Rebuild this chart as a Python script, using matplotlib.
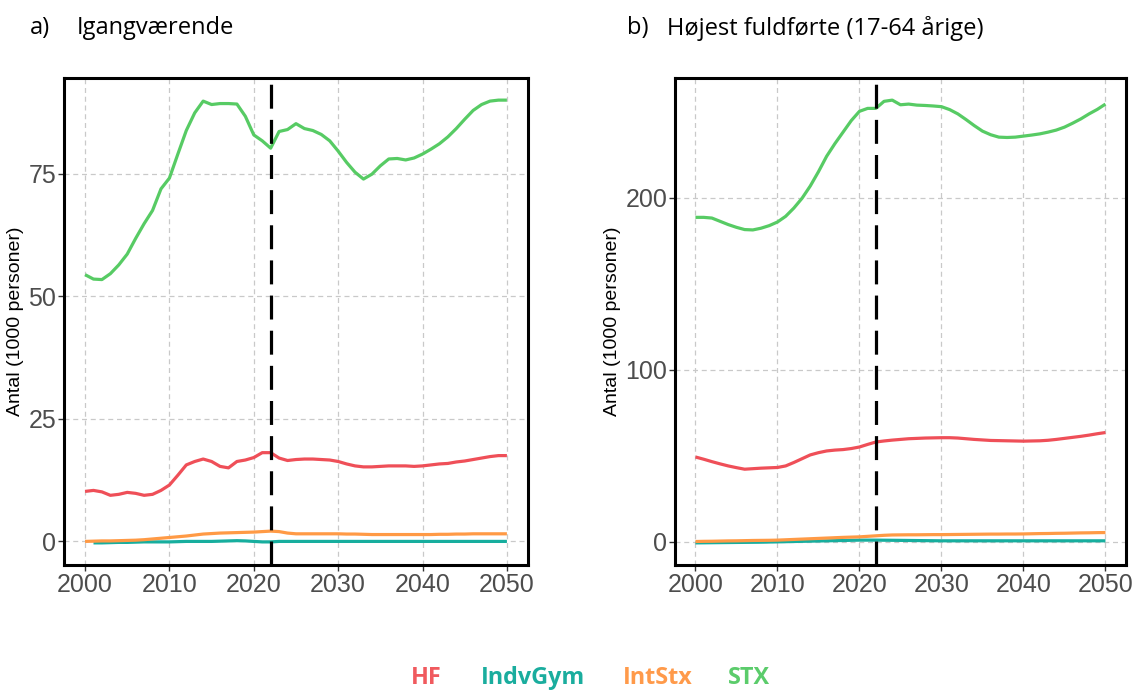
import numpy as np
import matplotlib
matplotlib.use("Agg")
import matplotlib.pyplot as plt

years = list(range(2000, 2051))
series_names = ["HF", "IndvGym", "IntStx", "STX"]
colors = {"HF": "#EF4F58", "IndvGym": "#17AE9E", "IntStx": "#FF9A45", "STX": "#57CB64"}
legend_colors = {"HF": "#F05A5E", "IndvGym": "#1AAD9E", "IntStx": "#FF9A4A", "STX": "#5BCC6B"}

# a) Igangværende
hf_a = [10.2, 10.4, 10.1, 9.4, 9.6, 10.0, 9.8, 9.4, 9.6, 10.4,
        11.5, 13.5, 15.6, 16.3, 16.8, 16.3, 15.3, 15.0, 16.3, 16.6,
        17.1, 18.1, 18.1, 17.0, 16.5, 16.7, 16.8, 16.8, 16.7, 16.6,
        16.3, 15.8, 15.4, 15.2, 15.2, 15.3, 15.4, 15.4, 15.4, 15.3,
        15.4, 15.6, 15.8, 15.9, 16.2, 16.4, 16.7, 17.0, 17.3, 17.5, 17.5]
indv_a = [np.nan, -0.3, -0.3, -0.25, -0.2, -0.2, -0.15, -0.1, -0.1, -0.1,
          -0.1, -0.05, 0.0, 0.0, 0.0, 0.0, 0.05, 0.1, 0.15, 0.1,
          0.0, -0.1, -0.1, 0.0, 0.0, 0.0, 0.0, 0.0, 0.0, 0.0,
          0.0, 0.0, 0.0, 0.0, 0.0, 0.0, 0.0, 0.0, 0.0, 0.0,
          0.0, 0.0, 0.0, 0.0, 0.0, 0.0, 0.0, 0.0, 0.0, 0.0, 0.0]
intstx_a = [0.0, 0.05, 0.1, 0.1, 0.15, 0.2, 0.25, 0.35, 0.5, 0.65,
            0.8, 0.95, 1.1, 1.3, 1.5, 1.6, 1.7, 1.75, 1.8, 1.85,
            1.9, 2.0, 2.1, 2.0, 1.7, 1.55, 1.55, 1.55, 1.55, 1.55,
            1.55, 1.5, 1.5, 1.45, 1.4, 1.4, 1.4, 1.4, 1.4, 1.4,
            1.4, 1.4, 1.45, 1.45, 1.5, 1.5, 1.55, 1.55, 1.55, 1.55, 1.55]
stx_a = [54.4, 53.5, 53.4, 54.6, 56.4, 58.6, 61.8, 64.8, 67.5, 71.9,
         74.1, 79.0, 83.8, 87.4, 89.8, 89.1, 89.3, 89.3, 89.2, 86.7,
         82.9, 81.7, 80.2, 83.6, 84.0, 85.2, 84.2, 83.8, 83.0, 81.7,
         79.6, 77.3, 75.3, 73.9, 74.9, 76.6, 78.0, 78.1, 77.8, 78.2,
         79.0, 80.0, 81.1, 82.5, 84.2, 86.1, 87.9, 89.1, 89.8, 90.0, 90.0]

# b) Højest fuldførte (17-64 årige)
hf_b = [49.3, 48.0, 46.6, 45.3, 44.1, 43.1, 42.2, 42.5, 42.8, 43.0,
        43.2, 44.1, 46.1, 48.3, 50.5, 51.8, 52.8, 53.3, 53.6, 54.2,
        55.1, 56.6, 58.0, 58.6, 59.1, 59.5, 59.9, 60.1, 60.3, 60.4,
        60.5, 60.5, 60.3, 59.9, 59.5, 59.2, 58.9, 58.8, 58.7, 58.6,
        58.5, 58.6, 58.7, 59.0, 59.5, 60.1, 60.7, 61.3, 62.0, 62.8, 63.5]
indv_b = [-0.6, -0.55, -0.5, -0.45, -0.4, -0.35, -0.3, -0.25, -0.2, -0.1,
          0.0, 0.1, 0.2, 0.3, 0.4, 0.5, 0.6, 0.7, 0.8, 0.9,
          1.0, 1.0, 1.0, 0.95, 0.9, 0.85, 0.8, 0.75, 0.7, 0.65,
          0.6, 0.6, 0.6, 0.6, 0.6, 0.6, 0.6, 0.6, 0.6, 0.6,
          0.6, 0.6, 0.6, 0.6, 0.6, 0.6, 0.6, 0.6, 0.6, 0.6, 0.6]
intstx_b = [0.2, 0.3, 0.35, 0.45, 0.55, 0.6, 0.7, 0.8, 0.85, 0.9,
            1.0, 1.2, 1.4, 1.6, 1.8, 2.0, 2.2, 2.4, 2.6, 2.75,
            2.9, 3.2, 3.5, 3.8, 4.0, 4.05, 4.1, 4.1, 4.15, 4.2,
            4.2, 4.25, 4.3, 4.35, 4.4, 4.45, 4.5, 4.5, 4.55, 4.55,
            4.6, 4.7, 4.8, 4.85, 4.95, 5.0, 5.1, 5.2, 5.25, 5.35, 5.4]
stx_b = [188.5, 188.5, 188.1, 186.2, 184.3, 182.7, 181.4, 181.2, 182.2, 183.7,
         185.8, 189.1, 193.9, 199.6, 206.7, 215.0, 224.0, 231.3, 238.0, 244.7,
         250.1, 251.8, 251.8, 255.9, 256.6, 253.9, 254.3, 253.7, 253.5, 253.2,
         252.8, 251.1, 248.6, 245.3, 241.8, 238.6, 236.5, 235.1, 234.9, 235.1,
         235.7, 236.3, 237.0, 238.0, 239.2, 240.9, 243.2, 245.7, 248.6, 251.2, 254.3]

cutoff_year = 2022
x_ticks = [2000, 2010, 2020, 2030, 2040, 2050]
y_ticks_a = [0, 25, 50, 75]
y_ticks_b = [0, 100, 200]

panels = [
    ("a)", "Igangværende", {"HF": hf_a, "IndvGym": indv_a, "IntStx": intstx_a, "STX": stx_a}, y_ticks_a),
    ("b)", "Højest fuldførte (17-64 årige)", {"HF": hf_b, "IndvGym": indv_b, "IntStx": intstx_b, "STX": stx_b}, y_ticks_b),
]

fig = plt.figure(figsize=(11.34, 6.92), dpi=100)
axes_rects = [[0.0564, 0.1835, 0.4092, 0.7038], [0.5952, 0.1835, 0.3977, 0.7038]]
title_x = [(0.026, 0.068), (0.553, 0.588)]

for (tag, title, data, yticks), rect, (tx1, tx2) in zip(panels, axes_rects, title_x):
    ax = fig.add_axes(rect)
    for name in series_names:
        ax.plot(years, data[name], color=colors[name], lw=2.3, solid_capstyle="butt", zorder=3)
    ax.axvline(cutoff_year, color="black", lw=2.3, dashes=(7.5, 3.5), zorder=4)

    vals = np.concatenate([np.array(v, dtype=float) for v in data.values()])
    lo, hi = np.nanmin(vals), np.nanmax(vals)
    pad = (hi - lo) * 0.05
    ax.set_ylim(lo - pad, hi + pad)
    ax.set_xlim(1997.5, 2052.5)
    ax.set_xticks(x_ticks)
    ax.set_yticks(yticks)
    ax.grid(True, color="#c9c9c9", ls=(0, (4, 3)), lw=0.9)
    ax.set_axisbelow(True)
    for sp in ax.spines.values():
        sp.set_linewidth(2.2)
        sp.set_color("black")
    ax.tick_params(axis="both", labelsize=18, labelcolor="#4d4d4d", color="#333333",
                   length=4, width=1.0, pad=1.5)
    for lab in ax.get_xticklabels() + ax.get_yticklabels():
        lab.set_family("Liberation Sans")
    ax.set_ylabel("Antal (1000 personer)", fontsize=14, family="Liberation Sans", labelpad=3)

    fig.text(tx1, 0.9595, tag, fontsize=17, family="Open Sans", va="center", ha="left")
    fig.text(tx2, 0.9595, title, fontsize=17, family="Open Sans", va="center", ha="left")

legend_x = [0.3624, 0.4242, 0.5494, 0.642]
for name, lx in zip(series_names, legend_x):
    fig.text(lx, 0.0115, name, color=legend_colors[name], fontsize=16.8, fontweight="bold",
             family="Open Sans", va="baseline", ha="left")

fig.savefig("out.png", dpi=100)
